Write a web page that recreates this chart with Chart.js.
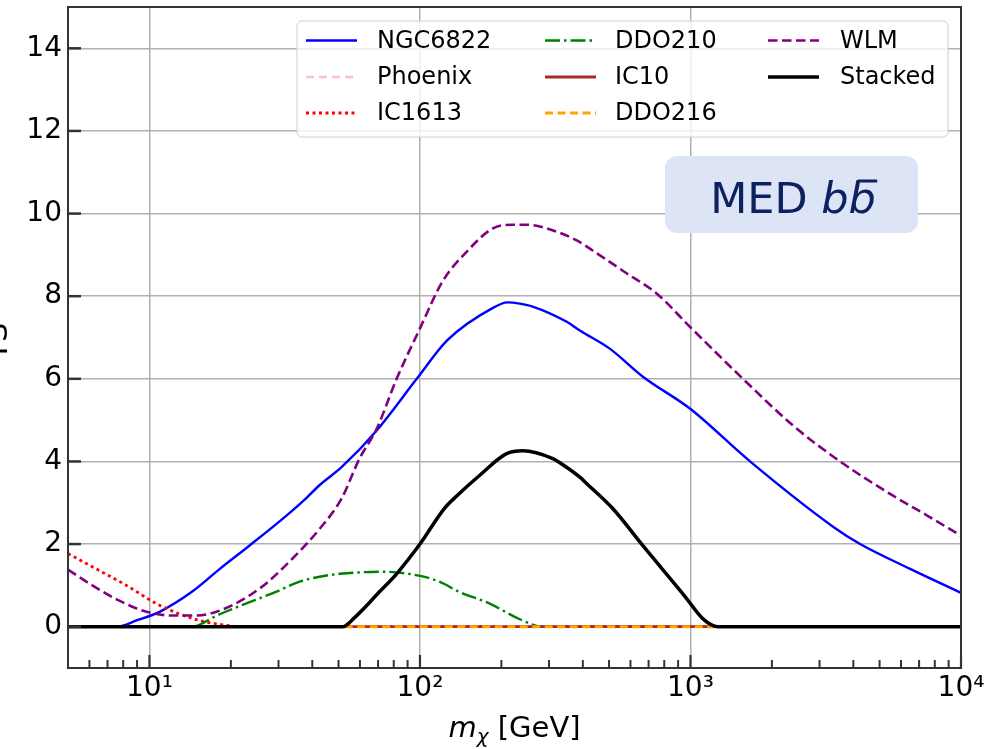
<!DOCTYPE html>
<html>
<head>
<meta charset="utf-8">
<script src="https://cdn.jsdelivr.net/npm/chart.js@4.4.1/dist/chart.umd.min.js"></script>
<style>
    html, body { margin: 0; padding: 0; background: #fff; }
</style>
</head>
<body>
<canvas id="chart" width="988" height="749"></canvas>
<script>
// dark matter mass grid (GeV) and TS per galaxy
var ngcMass = [5, 7.6, 8.95, 10.9, 14.4, 18.2, 23.4, 32.1, 38.1, 42.6, 51.3, 69.2, 97.3, 126, 184, 211, 234, 261, 349, 390, 503, 667, 995, 1660, 3365, 4236, 6486, 10000];
var ngcTS = [0, 0, 0.15, 0.36, 0.85, 1.4, 1.96, 2.69, 3.12, 3.43, 3.86, 4.75, 6.0, 6.93, 7.7, 7.85, 7.82, 7.75, 7.38, 7.17, 6.73, 6.05, 5.28, 4.0, 2.42, 2.0, 1.4, 0.82];

var flatMass = [52.7, 1231];
var phoenixTS = [0, 0];
var ic10TS = [0, 0];
var ddo216TS = [0, 0];

var ic1613Mass = [5, 6.15, 8.22, 10.6, 12.9, 15.3, 17.7, 22.1, 10000];
var ic1613TS = [1.77, 1.45, 1.0, 0.56, 0.31, 0.15, 0.07, 0, 0];

var ddo210Mass = [5, 14.5, 15.7, 17.5, 20.3, 29.5, 35.9, 42.6, 50.5, 72.8, 100, 118, 140, 181, 234, 284, 10000];
var ddo210TS = [0, 0, 0.08, 0.25, 0.43, 0.85, 1.09, 1.21, 1.28, 1.33, 1.23, 1.09, 0.84, 0.56, 0.18, 0, 0];

var wlmMass = [5, 6.15, 7.74, 9.75, 12.2, 14.9, 18.2, 25.5, 33.8, 42.6, 51.3, 59.8, 69.2, 82, 100, 121, 149, 186, 220, 248, 294, 380, 436, 582, 751, 995, 1563, 2393, 3572, 5610, 7500, 10000];
var wlmTS = [1.38, 1.0, 0.63, 0.36, 0.27, 0.27, 0.39, 0.92, 1.65, 2.37, 3.1, 4.07, 4.79, 6.0, 7.22, 8.35, 9.08, 9.64, 9.73, 9.73, 9.64, 9.35, 9.1, 8.55, 8.06, 7.26, 6.0, 4.87, 4.0, 3.17, 2.69, 2.2];

var stackMass = [5, 51.8, 57.3, 71, 82, 100, 123, 137, 166, 209, 240, 310, 329, 390, 414, 516, 667, 955, 1112, 1263, 10000];
var stackTS = [0, 0, 0.22, 0.85, 1.28, 2.0, 2.86, 3.17, 3.66, 4.19, 4.26, 4.07, 3.97, 3.62, 3.46, 2.86, 1.96, 0.73, 0.19, 0, 0];

var xTickValues = [10, 100, 1000, 10000];
var xTickLabels = ['10\u00B9', '10\u00B2', '10\u00B3', '10\u2074'];
var xMinorValues = [5, 6, 7, 8, 9, 20, 30, 40, 50, 60, 70, 80, 90, 200, 300, 400, 500, 600, 700, 800, 900,
    2000, 3000, 4000, 5000, 6000, 7000, 8000, 9000];
var yTickValues = [0, 2, 4, 6, 8, 10, 12, 14];

var FONT = '"DejaVu Sans", sans-serif';

function toPoints(mass, ts) {
    var pts = [];
    for (var i = 0; i < mass.length; ++i) {
        pts.push({ x: mass[i], y: ts[i] });
    }
    return pts;
}

function line(ctx, x1, y1, x2, y2) {
    ctx.beginPath();
    ctx.moveTo(x1, y1);
    ctx.lineTo(x2, y2);
    ctx.stroke();
}

function roundBox(ctx, x, y, w, h, r) {
    ctx.beginPath();
    ctx.moveTo(x + r, y);
    ctx.arcTo(x + w, y, x + w, y + h, r);
    ctx.arcTo(x + w, y + h, x, y + h, r);
    ctx.arcTo(x, y + h, x, y, r);
    ctx.arcTo(x, y, x + w, y, r);
    ctx.closePath();
}

// frame, inward ticks, legend, label box and axis titles
var decorations = {
    id: 'decorations',
    afterDatasetsDraw: function(chart) {
        var ctx = chart.ctx;
        var a = chart.chartArea;
        var xs = chart.scales.x;
        var ys = chart.scales.y;
        ctx.save();

        // ticks
        ctx.strokeStyle = '#333';
        ctx.lineWidth = 2.2;
        xTickValues.forEach(function(v) {
            var px = xs.getPixelForValue(v);
            line(ctx, px, a.bottom, px, a.bottom - 13);
        });
        ctx.lineWidth = 2;
        xMinorValues.forEach(function(v) {
            var px = xs.getPixelForValue(v);
            line(ctx, px, a.bottom, px, a.bottom - 8);
        });
        ctx.lineWidth = 2.5;
        yTickValues.forEach(function(v) {
            var py = ys.getPixelForValue(v);
            line(ctx, a.left, py, a.left + 13, py);
        });

        // frame
        ctx.lineWidth = 2;
        ctx.strokeRect(a.left, a.top, a.right - a.left, a.bottom - a.top);

        // legend
        roundBox(ctx, 297, 21, 651, 116, 5);
        ctx.fillStyle = 'rgba(255,255,255,0.8)';
        ctx.fill();
        ctx.strokeStyle = '#d0d0d0';
        ctx.lineWidth = 1;
        ctx.stroke();

        var colSample = [306, 545, 768];
        var colText = [377, 615, 840];
        var rowY = [40.5, 77, 113];
        ctx.font = '24px ' + FONT;
        ctx.textBaseline = 'middle';
        ctx.textAlign = 'left';
        chart.data.datasets.forEach(function(ds, i) {
            var c = Math.floor(i / 3), rr = i % 3;
            ctx.strokeStyle = ds.borderColor;
            ctx.lineWidth = ds.borderWidth;
            ctx.setLineDash(ds.borderDash || []);
            line(ctx, colSample[c], rowY[rr], colSample[c] + 51, rowY[rr]);
            ctx.setLineDash([]);
            ctx.fillStyle = '#000';
            ctx.fillText(ds.label, colText[c], rowY[rr] + 1);
        });

        // MED b bbar box
        roundBox(ctx, 665, 156, 253, 77, 12);
        ctx.fillStyle = '#dde4f5';
        ctx.fill();
        ctx.fillStyle = '#0c2260';
        ctx.strokeStyle = '#0c2260';
        ctx.textBaseline = 'alphabetic';
        ctx.font = '43px ' + FONT;
        var t1 = 'MED ';
        var w1 = ctx.measureText(t1).width;
        ctx.font = 'italic 43px ' + FONT;
        var wb = ctx.measureText('b').width;
        var startX = 793 - (w1 + 2 * wb) / 2;
        var base = 213;
        ctx.font = '43px ' + FONT;
        ctx.fillText(t1, startX, base);
        ctx.font = 'italic 43px ' + FONT;
        ctx.fillText('b', startX + w1, base);
        ctx.fillText('b', startX + w1 + wb, base);
        ctx.lineWidth = 3;
        var b2 = startX + w1 + wb;
        line(ctx, b2 + 0.35 * wb, base - 32, b2 + 1.05 * wb, base - 32);

        // x title: m_chi [GeV]
        ctx.fillStyle = '#000';
        ctx.font = 'italic 29px ' + FONT;
        var wm = ctx.measureText('m').width;
        ctx.font = 'italic 20px ' + FONT;
        var wc = ctx.measureText('\u03C7').width;
        ctx.font = '29px ' + FONT;
        var wg = ctx.measureText(' [GeV]').width;
        var tx = (a.left + a.right) / 2 - (wm + wc + wg) / 2;
        var tb = 737;
        ctx.font = 'italic 29px ' + FONT;
        ctx.fillText('m', tx, tb);
        ctx.font = 'italic 20px ' + FONT;
        ctx.fillText('\u03C7', tx + wm, tb + 6);
        ctx.font = '29px ' + FONT;
        ctx.fillText(' [GeV]', tx + wm + wc, tb);

        // y title, mostly cut off at the left edge
        ctx.save();
        ctx.translate(7, (a.top + a.bottom) / 2 + 4);
        ctx.rotate(-Math.PI / 2);
        ctx.textAlign = 'center';
        ctx.font = '30px ' + FONT;
        ctx.fillText('TS', 0, 0);
        ctx.restore();

        ctx.restore();
    }
};

var datasets = [
    { label: 'NGC6822', data: toPoints(ngcMass, ngcTS), borderColor: '#0000ff', borderWidth: 2.4 },
    { label: 'Phoenix', data: toPoints(flatMass, phoenixTS), borderColor: '#ffc0cb', borderWidth: 2.5, borderDash: [8, 5] },
    { label: 'IC1613', data: toPoints(ic1613Mass, ic1613TS), borderColor: '#ff0000', borderWidth: 2.8, borderDash: [3, 3.5] },
    { label: 'DDO210', data: toPoints(ddo210Mass, ddo210TS), borderColor: '#008000', borderWidth: 2.4, borderDash: [15, 4, 2.5, 4] },
    { label: 'IC10', data: toPoints(flatMass, ic10TS), borderColor: '#a52a2a', borderWidth: 2.8 },
    { label: 'DDO216', data: toPoints(flatMass, ddo216TS), borderColor: '#ffa500', borderWidth: 3, borderDash: [8, 4.5] },
    { label: 'WLM', data: toPoints(wlmMass, wlmTS), borderColor: '#800080', borderWidth: 2.6, borderDash: [9.5, 4.5] },
    { label: 'Stacked', data: toPoints(stackMass, stackTS), borderColor: '#000000', borderWidth: 3.5 }
];
// later series on top, like the original plot
for (var i = 0; i < datasets.length; ++i) {
    datasets[i].order = datasets.length - i;
    datasets[i].fill = false;
    datasets[i].pointRadius = 0;
    datasets[i].cubicInterpolationMode = 'monotone';
}

new Chart(document.getElementById('chart'), {
    type: 'line',
    data: { datasets: datasets },
    options: {
        responsive: false,
        animation: false,
        layout: { padding: { top: 7, right: 27, left: 0, bottom: 0 } },
        plugins: {
            legend: { display: false },
            tooltip: { enabled: false }
        },
        scales: {
            x: {
                type: 'logarithmic',
                min: 5,
                max: 10000,
                afterBuildTicks: function(s) {
                    s.ticks = xTickValues.map(function(v) { return { value: v }; });
                },
                afterFit: function(s) {
                    s.height = 81;
                    s.paddingLeft = 0;
                    s.paddingRight = 0;
                },
                ticks: {
                    autoSkip: false,
                    maxRotation: 0,
                    padding: 4,
                    color: '#000',
                    font: { family: FONT, size: 28 },
                    callback: function(value) {
                        return xTickLabels[xTickValues.indexOf(value)];
                    }
                },
                grid: { color: '#b0b0b0', lineWidth: 1.5, drawTicks: false },
                border: { display: false }
            },
            y: {
                min: -1,
                max: 15,
                afterBuildTicks: function(s) {
                    s.ticks = yTickValues.map(function(v) { return { value: v }; });
                },
                afterFit: function(s) {
                    s.width = 68;
                    s.paddingTop = 0;
                    s.paddingBottom = 0;
                },
                ticks: {
                    padding: 6,
                    color: '#000',
                    font: { family: FONT, size: 28 }
                },
                grid: { color: '#b0b0b0', lineWidth: 1.5, drawTicks: false },
                border: { display: false }
            }
        }
    },
    plugins: [decorations]
});
</script>
</body>
</html>
